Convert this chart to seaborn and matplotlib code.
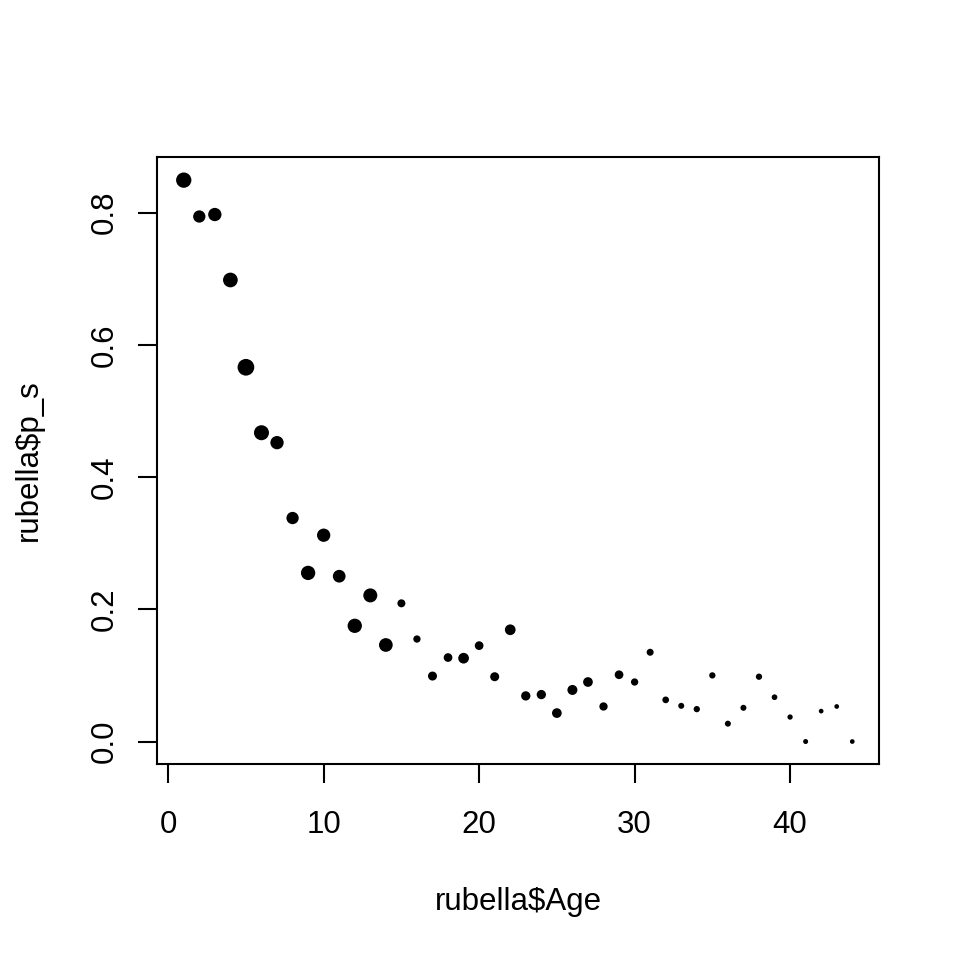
import matplotlib
matplotlib.use("Agg")
import matplotlib.pyplot as plt
import pandas as pd
import seaborn as sns

# rubella data
age = list(range(1, 45))
p_s = [0.849, 0.794, 0.797, 0.698, 0.566, 0.467, 0.452, 0.338, 0.255, 0.312,
       0.250, 0.175, 0.221, 0.146, 0.209, 0.155, 0.099, 0.127, 0.126, 0.145,
       0.098, 0.169, 0.069, 0.071, 0.043, 0.078, 0.090, 0.053, 0.101, 0.090,
       0.135, 0.063, 0.054, 0.049, 0.100, 0.027, 0.051, 0.098, 0.067, 0.037,
       0.000, 0.046, 0.053, 0.000]
# relative point size (cex-like weight per age group)
cex = [15.3, 12.3, 13.3, 14.7, 16.7, 15.0, 13.3, 12.3, 14.3, 13.3,
       12.7, 14.3, 14.0, 13.7, 8.0, 7.3, 9.0, 8.7, 10.7, 8.7,
       9.0, 10.7, 9.3, 9.3, 9.7, 10.0, 9.7, 8.3, 8.7, 7.3,
       7.0, 6.7, 6.0, 6.3, 6.3, 6.0, 6.0, 6.3, 5.7, 5.3,
       5.0, 4.7, 4.7, 4.7]
x_ticks = [0, 10, 20, 30, 40]
y_ticks = [0.0, 0.2, 0.4, 0.6, 0.8]

df = pd.DataFrame({"Age": age, "p_s": p_s, "cex": cex})

sns.set_style("ticks")
plt.rcParams["font.family"] = ["Liberation Sans", "DejaVu Sans"]

fig = plt.figure(figsize=(9.6, 9.6), dpi=100)
ax = fig.add_axes([157 / 960, 196 / 960, 722 / 960, 607 / 960])

# diameter in pixels -> marker area in points^2 at 100 dpi
sizes = {c: (c * 0.72) ** 2 for c in df["cex"].unique()}
sns.scatterplot(data=df, x="Age", y="p_s", size="cex", sizes=sizes,
                color="black", linewidth=0, legend=False, ax=ax)

ax.set_xlim(-0.72, 45.72)
ax.set_ylim(-0.034, 0.884)
ax.set_xticks(x_ticks)
ax.set_xticklabels([str(t) for t in x_ticks])
ax.set_yticks(y_ticks)
ax.set_yticklabels([f"{t:.1f}" for t in y_ticks], rotation=90, va="center")

for spine in ax.spines.values():
    spine.set_visible(True)
    spine.set_linewidth(1.5)
    spine.set_color("black")

ax.tick_params(axis="both", length=13.5, width=1.5, labelsize=22.5, colors="black")
ax.tick_params(axis="x", pad=19.5)
ax.tick_params(axis="y", pad=13)

ax.set_xlabel("rubella$Age", fontsize=22.5, va="baseline", color="black")
ax.set_ylabel("rubella$p_s", fontsize=22.5, va="baseline", color="black")
ax.xaxis.set_label_coords(0.5, (764 - 910) / 607)
ax.yaxis.set_label_coords((37 - 157) / 722, 0.5)

fig.savefig("out.png", dpi=100)
